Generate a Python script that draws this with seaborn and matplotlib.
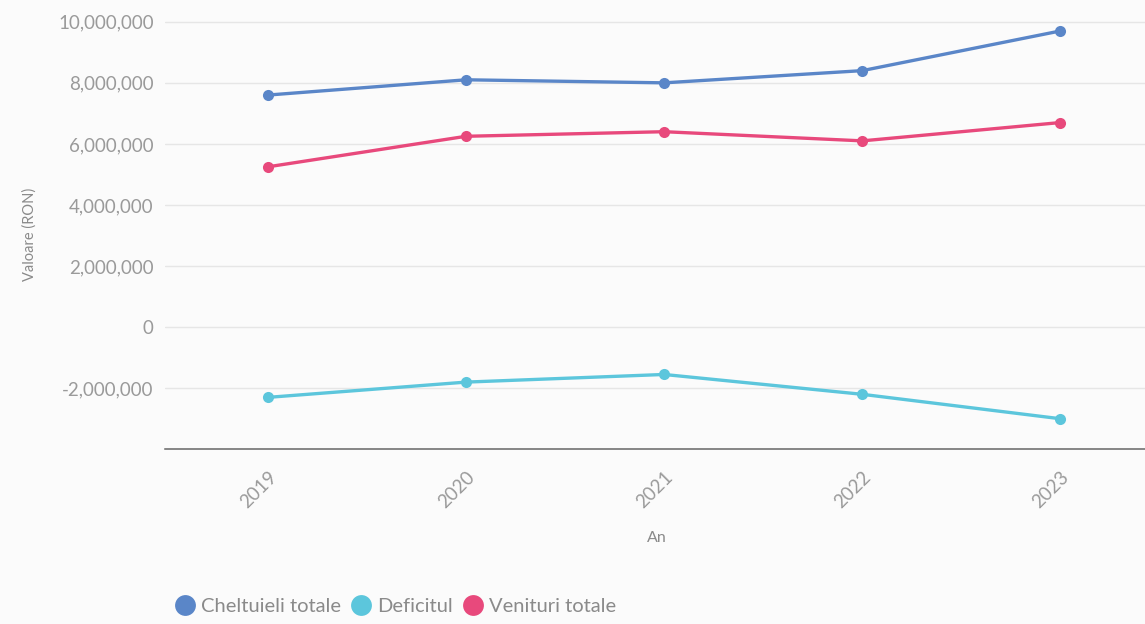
import matplotlib
matplotlib.use("Agg")
import matplotlib.pyplot as plt
import matplotlib.ticker as mticker
from matplotlib.lines import Line2D
import seaborn as sns
import pandas as pd

years = [2019, 2020, 2021, 2022, 2023]
cheltuieli = [7600000, 8100000, 8000000, 8400000, 9700000]
deficit = [-2300000, -1800000, -1550000, -2200000, -3000000]
venituri = [5250000, 6250000, 6400000, 6100000, 6700000]
series_names = ["Cheltuieli totale", "Deficitul", "Venituri totale"]
colors = ["#5a86c8", "#5cc6dc", "#e8497c"]
y_ticks = [-2000000, 0, 2000000, 4000000, 6000000, 8000000, 10000000]

rows = []
for name, vals in zip(series_names, [cheltuieli, deficit, venituri]):
    for y, v in zip(years, vals):
        rows.append({"An": y, "Valoare": v, "Serie": name})
df = pd.DataFrame(rows)

sns.set_theme(style="white")
plt.rcParams["font.family"] = ["Lato", "DejaVu Sans"]

fig = plt.figure(figsize=(11.45, 6.24), dpi=100)
fig.patch.set_facecolor("#fbfbfb")
ax = fig.add_axes([0.144, 0.28, 0.86, 0.69])
ax.set_facecolor("#fbfbfb")

sns.lineplot(data=df, x="An", y="Valoare", hue="Serie", palette=colors,
             hue_order=series_names, marker="o", markersize=8,
             markeredgewidth=0, linewidth=2.4, ax=ax, legend=False)

ax.set_xlim(2018.48, 2023.45)
ax.set_ylim(-4000000, 10100000)
ax.set_yticks(y_ticks)
ax.yaxis.set_major_formatter(mticker.FuncFormatter(lambda v, p: f"{int(v):,}"))
ax.set_xticks(years)
ax.set_xticklabels([str(y) for y in years], rotation=45, ha="right", rotation_mode="anchor")
ax.grid(axis="y", color="#e6e6e6", linewidth=1)
ax.grid(axis="x", visible=False)
for s in ["left", "right", "top"]:
    ax.spines[s].set_visible(False)
ax.spines["bottom"].set_color("#666666")
ax.spines["bottom"].set_linewidth(1.1)
ax.tick_params(axis="both", length=0, colors="#9a9a9a", labelsize=13.5, pad=8)
ax.tick_params(axis="x", pad=14)
ax.set_xlabel("An", color="#8a8a8a", fontsize=11.5, labelpad=14)
ax.set_ylabel("Valoare (RON)", color="#8a8a8a", fontsize=10.5, labelpad=4)
ax.yaxis.set_label_coords(-0.13, 0.5)

handles = [Line2D([0], [0], marker="o", color="none", markerfacecolor=c,
                  markeredgewidth=0, markersize=15) for c in colors]
leg = fig.legend(handles, series_names, loc="lower left", bbox_to_anchor=(0.135, -0.015),
                 ncol=3, frameon=False, fontsize=14.5, handletextpad=0.2,
                 columnspacing=0.4, handlelength=1.2)
for t in leg.get_texts():
    t.set_color("#8a8a8a")

fig.savefig("out.png", dpi=100, facecolor=fig.get_facecolor())
